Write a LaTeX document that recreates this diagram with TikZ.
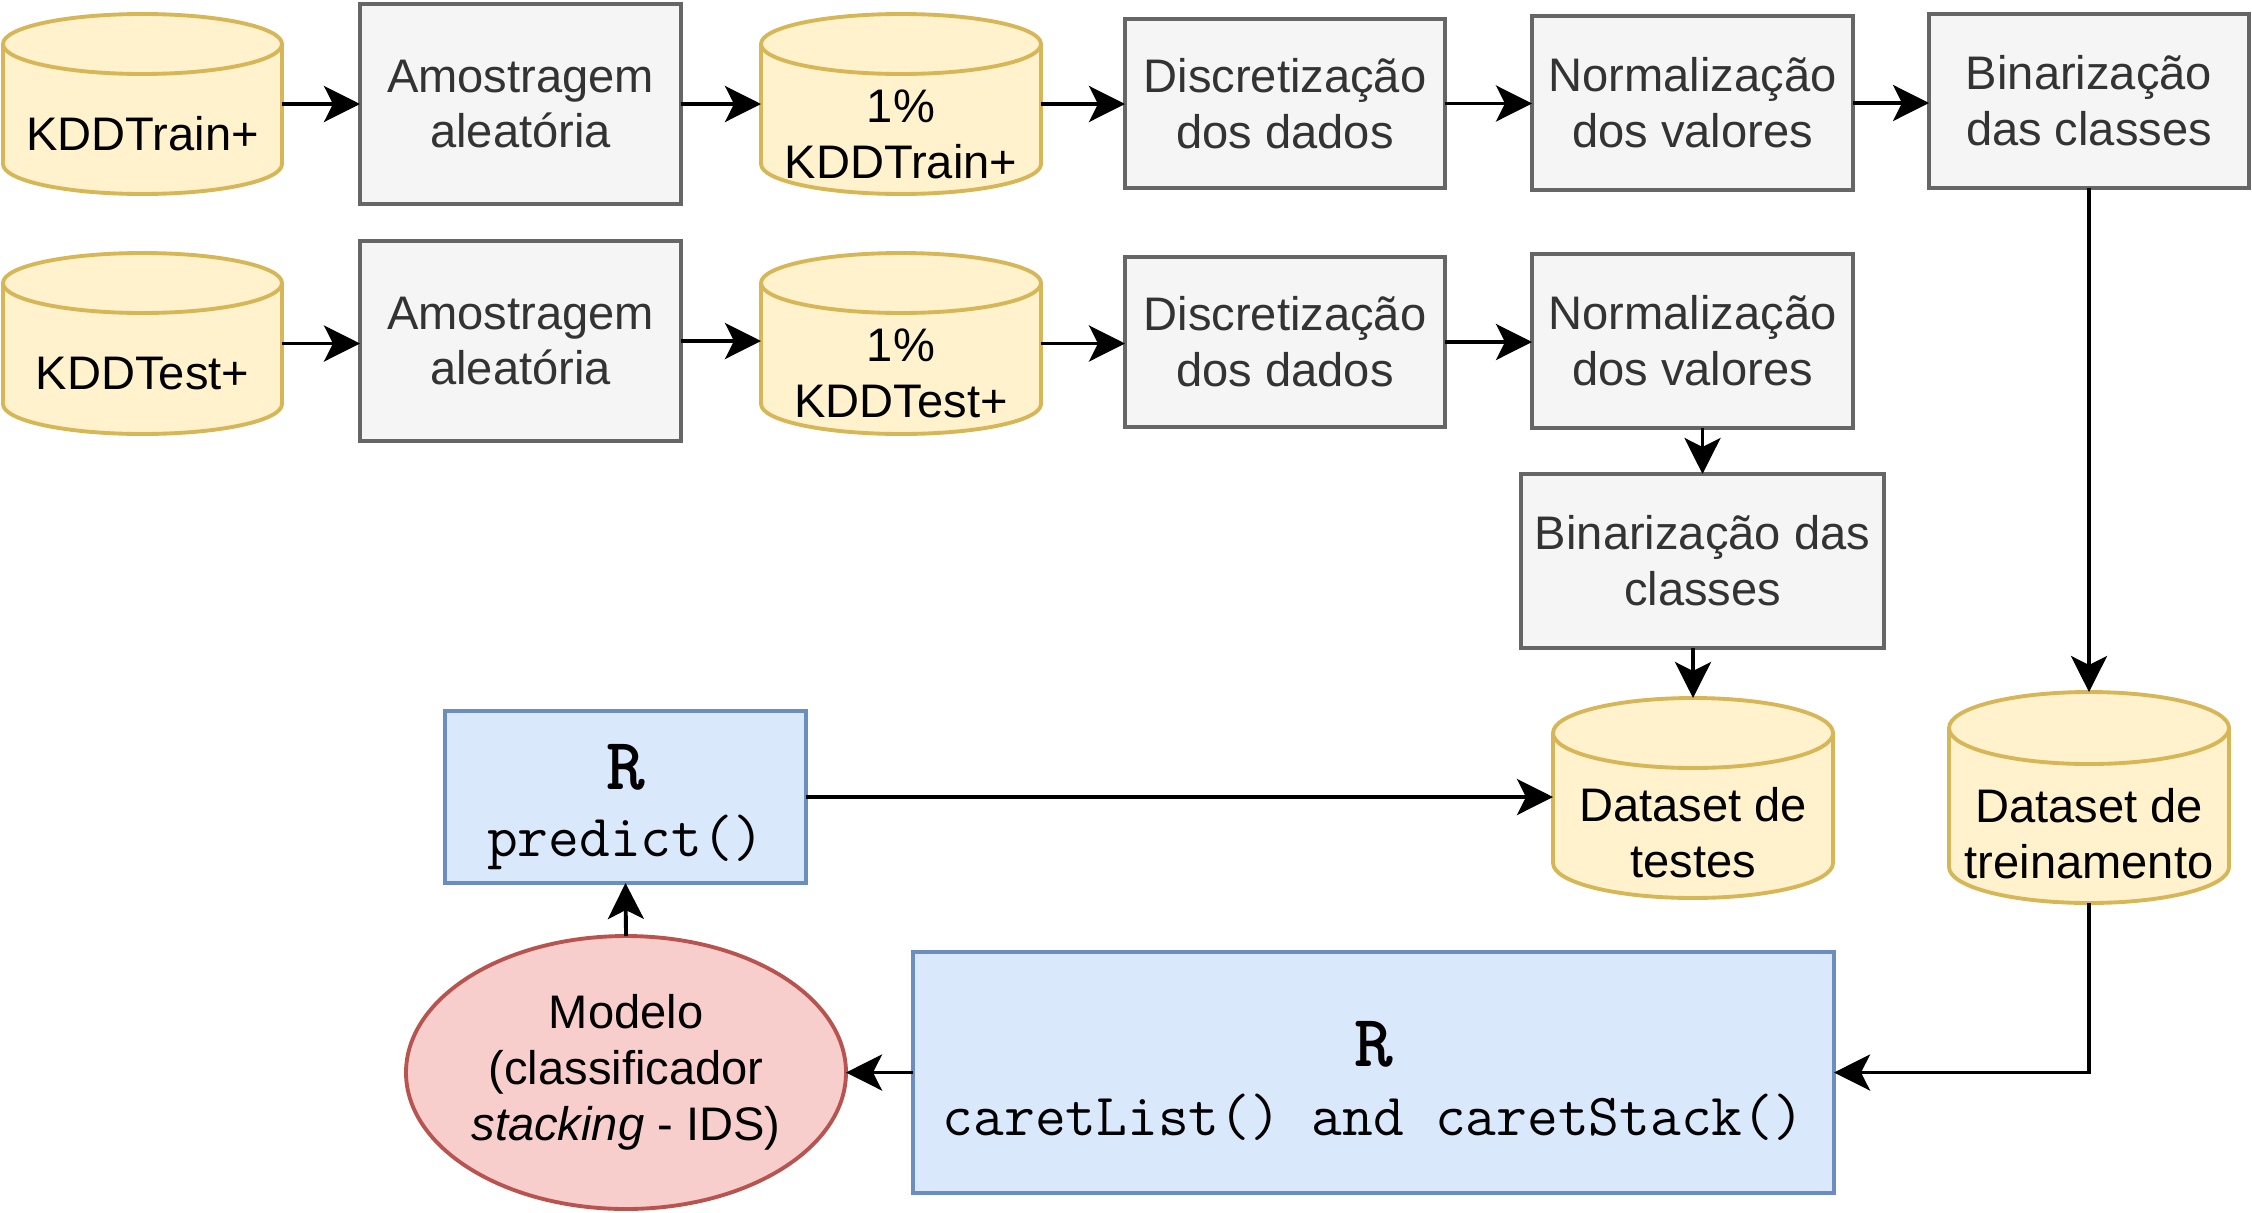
\documentclass[tikz,border=0pt]{standalone}
\usepackage{fontspec}
\setmainfont{Liberation Sans}
\usepackage{tikz}
\usetikzlibrary{arrows.meta,shapes.geometric,calc,positioning}

\definecolor{dbfill}{HTML}{FFF2CC}
\definecolor{dbdraw}{HTML}{D6B656}
\definecolor{stepfill}{HTML}{F5F5F5}
\definecolor{stepdraw}{HTML}{666666}
\definecolor{steptext}{HTML}{333333}
\definecolor{rfill}{HTML}{DAE8FC}
\definecolor{rdraw}{HTML}{6C8EBF}
\definecolor{modfill}{HTML}{F8CECC}
\definecolor{moddraw}{HTML}{B85450}

\newcommand{\boxfont}{\fontsize{13.4pt}{15.9pt}\selectfont}
\newcommand{\codefont}{\fontsize{17pt}{20.5pt}\selectfont\ttfamily}
\newcommand{\rfont}{\fontsize{21pt}{24pt}\selectfont\ttfamily\bfseries}

\tikzset{
  dbnode/.style={inner sep=0pt, outer sep=0pt},
  dbline/.style={draw=dbdraw, fill=dbfill, line width=1.1pt},
  dbtext/.style={align=center, font=\boxfont, inner sep=0pt},
  stepbox/.style={rectangle, draw=stepdraw, fill=stepfill, text=steptext, line width=1.1pt,
    align=center, font=\boxfont, inner sep=0pt, outer sep=0pt},
  rbox/.style={rectangle, draw=rdraw, fill=rfill, line width=1.1pt, inner sep=0pt, outer sep=0pt},
  model/.style={ellipse, draw=moddraw, fill=modfill, line width=1.1pt, align=center,
    font=\boxfont, inner sep=0pt, outer sep=0pt},
  flow/.style={->, line width=1.1pt},
}

% name, centre, width, height, cap radius, text
\newcommand{\dbcyl}[6]{%
  \node[dbnode, minimum width=#3cm, minimum height=#4cm] (#1) at (#2) {};
  \path[dbline] ([yshift=-#5cm]#1.north west) -- ([yshift=#5cm]#1.south west)
    arc[start angle=180, end angle=360, x radius=#3cm/2, y radius=#5cm]
    -- ([yshift=-#5cm]#1.north east)
    arc[start angle=0, end angle=180, x radius=#3cm/2, y radius=#5cm] -- cycle;
  \draw[draw=dbdraw, line width=1.1pt] ([yshift=-#5cm]#1.north west)
    arc[start angle=180, end angle=360, x radius=#3cm/2, y radius=#5cm];
  \node[dbtext] (#1-txt) at ($(#1.center)+(0,-#5)$) {#6};
}

\begin{document}
\begin{tikzpicture}[>={Stealth[length=0.36cm,width=0.36cm,inset=0.09cm]}]
\useasboundingbox (0,0) rectangle (22.52,-12.12);

\dbcyl{train}{1.425,-1.04}{2.79}{1.80}{0.30}{KDDTrain+}
\dbcyl{test}{1.425,-3.435}{2.79}{1.81}{0.30}{KDDTest+}
\dbcyl{trainpc}{9.01,-1.04}{2.80}{1.80}{0.30}{1\%\\KDDTrain+}
\dbcyl{testpc}{9.01,-3.435}{2.80}{1.81}{0.30}{1\%\\KDDTest+}
\dbcyl{dstest}{16.93,-7.98}{2.80}{2.00}{0.35}{Dataset de\\testes}
\dbcyl{dstrain}{20.89,-7.975}{2.80}{2.11}{0.36}{Dataset de\\treinamento}

\node[stepbox, minimum width=3.21cm, minimum height=2cm] (sampa) at (5.205,-1.04) {Amostragem\\aleatória};
\node[stepbox, minimum width=3.21cm, minimum height=2cm] (sampb) at (5.205,-3.41) {Amostragem\\aleatória};
\node[stepbox, minimum width=3.2cm, minimum height=1.69cm] (discra) at (12.85,-1.035) {Discretização\\dos dados};
\node[stepbox, minimum width=3.2cm, minimum height=1.7cm] (discrb) at (12.85,-3.42) {Discretização\\dos dados};
\node[stepbox, minimum width=3.21cm, minimum height=1.74cm] (norma) at (16.925,-1.03) {Normalização\\dos valores};
\node[stepbox, minimum width=3.21cm, minimum height=1.74cm] (normb) at (16.925,-3.41) {Normalização\\dos valores};
\node[stepbox, minimum width=3.2cm, minimum height=1.74cm] (bina) at (20.89,-1.01) {Binarização\\das classes};
\node[stepbox, minimum width=3.63cm, minimum height=1.74cm] (binb) at (17.025,-5.61) {Binarização das\\classes};

\node[rbox, minimum width=3.61cm, minimum height=1.72cm] (pred) at (6.255,-7.97) {};
\node[font=\rfont, inner sep=0pt] (pred-r) at ([yshift=0.3cm]pred.center) {R};
\node[font=\codefont, inner sep=0pt] (pred-f) at ([yshift=-0.45cm]pred.center) {predict()};

\node[rbox, minimum width=9.21cm, minimum height=2.41cm] (caret) at (13.735,-10.725) {};
\node[font=\rfont, inner sep=0pt] (caret-r) at ([yshift=0.285cm]caret.center) {R};
\node[font=\codefont, inner sep=0pt] (caret-f) at ([yshift=-0.445cm]caret.center) {caretList() and caretStack()};

\node[model, minimum width=4.4cm, minimum height=2.73cm] (model) at (6.26,-10.725) {Modelo\\(classificador\\\textit{stacking} - IDS)};

\draw[flow] (train.east) -- (train.east -| sampa.west);
\draw[flow] (sampa.east) -- (sampa.east -| trainpc.west);
\draw[flow] (trainpc.east) -- (trainpc.east -| discra.west);
\draw[flow] (discra.east) -- (discra.east -| norma.west);
\draw[flow] (norma.east) -- (norma.east -| bina.west);

\draw[flow] (test.east) -- (test.east -| sampb.west);
\draw[flow] (sampb.east) -- (sampb.east -| testpc.west);
\draw[flow] (testpc.east) -- (testpc.east -| discrb.west);
\draw[flow] (discrb.east) -- (discrb.east -| normb.west);

\draw[flow] (normb.south -| binb.north) -- (binb.north);
\draw[flow] (binb.south -| dstest.north) -- (dstest.north);
\draw[flow] (bina.south) -- (dstrain.north);
\draw[flow] (dstrain.south) |- (caret.east);
\draw[flow] (caret.west) -- (model.east);
\draw[flow] (model.north) -- (pred.south);
\draw[flow] (pred.east) -- (pred.east -| dstest.west);
\end{tikzpicture}
\end{document}
